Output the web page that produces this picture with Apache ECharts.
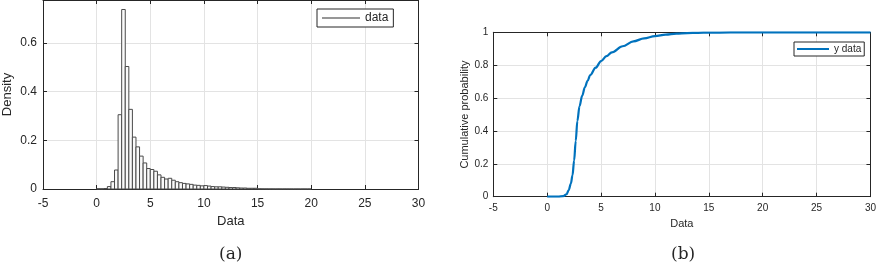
<!DOCTYPE html>
<html>
<head>
<meta charset="utf-8">
<script src="https://cdn.jsdelivr.net/npm/echarts@6/dist/echarts.min.js"></script>
<style>
  html, body { margin: 0; padding: 0; background: #fff; }
  #chart { width: 879px; height: 266px; }
</style>
</head>
<body>
<div id="chart"></div>
<script>
// histogram (a): bins of width 1/3 starting at 0, density per bin
var binStart = 0;
var binWidth = 1 / 3;
var density = [
  0.001, 0.001, 0.002, 0.010, 0.030, 0.078, 0.305, 0.737, 0.503, 0.327,
  0.213, 0.173, 0.135, 0.107, 0.084, 0.080, 0.073, 0.058, 0.048, 0.041,
  0.044, 0.036, 0.030, 0.026, 0.023, 0.021, 0.019, 0.016, 0.015, 0.013,
  0.014, 0.012, 0.010, 0.009, 0.009, 0.008, 0.007, 0.006, 0.006, 0.005,
  0.004, 0.004, 0.003, 0.003, 0.003, 0.0008, 0.0006, 0.0005, 0.0004, 0.0003,
  0.0003, 0.0002, 0.0002, 0.0002, 0.0001, 0.0001, 0.0001, 0.0001, 0.0001, 0.0001
];

// cumulative curve (b)
var cdfX = [0, 1, 1.5, 1.8, 2.0, 2.2, 2.35, 2.5, 2.65, 2.8, 3.0, 3.25, 3.5, 3.75, 4.0,
  4.5, 5.0, 5.5, 6.0, 7.0, 8.0, 9.0, 10.0, 11.0, 12.0, 13.0, 14.0, 15.0, 17.0, 20.0, 25.0, 30.0];
var cdfY = [0, 0, 0.004, 0.015, 0.04, 0.08, 0.13, 0.22, 0.34, 0.46, 0.55, 0.615, 0.665, 0.705, 0.74,
  0.785, 0.825, 0.855, 0.878, 0.915, 0.945, 0.963, 0.977, 0.986, 0.992, 0.995, 0.997, 0.998, 0.999, 1, 1, 1];

var xTicks = [-5, 0, 5, 10, 15, 20, 25, 30];

var FONT = "'Liberation Sans', Arial, sans-serif";
var AXIS = "#262626";
var GRIDC = "#e3e3e3";

var histData = density.map(function (d, i) {
  return [binStart + i * binWidth, binStart + (i + 1) * binWidth, d];
});
var cdfData = cdfX.map(function (x, i) { return [x, cdfY[i]]; });

var myChart = echarts.init(document.getElementById("chart"));

function mainX(gridIndex, fs, margin, gap, nameFs) {
  return {
    type: "value", gridIndex: gridIndex, position: "bottom",
    min: xTicks[0], max: xTicks[xTicks.length - 1], interval: 5,
    name: "Data", nameLocation: "middle", nameGap: gap,
    nameTextStyle: { color: AXIS, fontSize: nameFs, fontFamily: FONT },
    axisLine: { show: true, onZero: false, lineStyle: { color: AXIS, width: 1 } },
    axisTick: { show: true, inside: true, length: 4, lineStyle: { color: AXIS } },
    axisLabel: { color: AXIS, fontSize: fs, fontFamily: FONT, margin: margin },
    splitLine: { show: true, lineStyle: { color: GRIDC, width: 1 } }
  };
}
function boxX(gridIndex) {
  return {
    type: "value", gridIndex: gridIndex, position: "top",
    min: xTicks[0], max: xTicks[xTicks.length - 1], interval: 5,
    axisLine: { show: true, onZero: false, lineStyle: { color: AXIS, width: 1 } },
    axisTick: { show: true, inside: true, length: 4, lineStyle: { color: AXIS } },
    axisLabel: { show: false }, splitLine: { show: false }
  };
}
function boxY(gridIndex, max) {
  return {
    type: "value", gridIndex: gridIndex, position: "right",
    min: 0, max: max, interval: 0.2,
    axisLine: { show: true, onZero: false, lineStyle: { color: AXIS, width: 1 } },
    axisTick: { show: true, inside: true, length: 4, lineStyle: { color: AXIS } },
    axisLabel: { show: false }, splitLine: { show: false }
  };
}

var option = {
  animation: false,
  backgroundColor: "#fff",
  grid: [
    { left: 41.7, top: -1, width: 376.8, height: 190 },
    { left: 493.3, top: 32.3, width: 378.4, height: 164.4 }
  ],
  xAxis: [mainX(0, 12, 9, 26, 13), boxX(0), mainX(1, 10, 7, 22, 11), boxX(1)],
  yAxis: [
    {
      type: "value", gridIndex: 0, position: "left", min: 0, max: 0.776, interval: 0.2,
      name: "Density", nameLocation: "middle", nameGap: 29,
      nameTextStyle: { color: AXIS, fontSize: 13, fontFamily: FONT },
      axisLine: { show: true, onZero: false, lineStyle: { color: AXIS, width: 1 } },
      axisTick: { show: true, inside: true, length: 4, lineStyle: { color: AXIS } },
      axisLabel: { color: AXIS, fontSize: 12, fontFamily: FONT, margin: 6, showMaxLabel: false },
      splitLine: { show: true, lineStyle: { color: GRIDC, width: 1 } }
    },
    boxY(0, 0.776),
    {
      type: "value", gridIndex: 1, position: "left", min: 0, max: 1, interval: 0.2,
      name: "Cumulative probability", nameLocation: "middle", nameGap: 23,
      nameTextStyle: { color: AXIS, fontSize: 11, fontFamily: FONT },
      axisLine: { show: true, onZero: false, lineStyle: { color: AXIS, width: 1 } },
      axisTick: { show: true, inside: true, length: 4, lineStyle: { color: AXIS } },
      axisLabel: { color: AXIS, fontSize: 10, fontFamily: FONT, margin: 5 },
      splitLine: { show: true, lineStyle: { color: GRIDC, width: 1 } }
    },
    boxY(1, 1)
  ],
  legend: [
    {
      data: [{ name: "data", icon: "rect", itemStyle: { color: "#303030" } }],
      left: 317, top: 9, orient: "vertical",
      itemWidth: 38, itemHeight: 1,
      padding: [3, 5, 3, 5],
      backgroundColor: "#fff", borderColor: AXIS, borderWidth: 1, borderRadius: 0,
      textStyle: { color: AXIS, fontSize: 12, fontFamily: FONT }
    },
    {
      data: [{ name: "y data", icon: "rect", itemStyle: { color: "#0072BD" } }],
      left: 794, top: 42, orient: "vertical",
      itemWidth: 32, itemHeight: 2,
      padding: [2, 3, 2, 3],
      backgroundColor: "#fff", borderColor: AXIS, borderWidth: 1, borderRadius: 0,
      textStyle: { color: AXIS, fontSize: 10, fontFamily: FONT }
    }
  ],
  graphic: [
    { type: "text", left: 219, top: 246,
      style: { text: "(a)", fill: AXIS, font: "17px 'DejaVu Serif', serif" } },
    { type: "text", left: 671, top: 246,
      style: { text: "(b)", fill: AXIS, font: "17px 'DejaVu Serif', serif" } }
  ],
  series: [
    {
      name: "data", type: "custom", xAxisIndex: 0, yAxisIndex: 0,
      data: histData,
      encode: { x: [0, 1], y: 2 },
      renderItem: function (params, api) {
        var p0 = api.coord([api.value(0), api.value(2)]);
        var p1 = api.coord([api.value(1), 0]);
        return {
          type: "rect",
          shape: { x: p0[0], y: p0[1], width: p1[0] - p0[0], height: p1[1] - p0[1] },
          style: { fill: "#fafafa", stroke: "#4a4a4a", lineWidth: 1 }
        };
      }
    },
    {
      name: "y data", type: "line", xAxisIndex: 2, yAxisIndex: 2,
      data: cdfData, showSymbol: false,
      smooth: 0.35, smoothMonotone: "x",
      lineStyle: { color: "#0072BD", width: 2.2 },
      itemStyle: { color: "#0072BD" }
    }
  ]
};

myChart.setOption(option);
window.addEventListener("resize", function () {
  myChart.resize();
});
</script>
</body>
</html>
